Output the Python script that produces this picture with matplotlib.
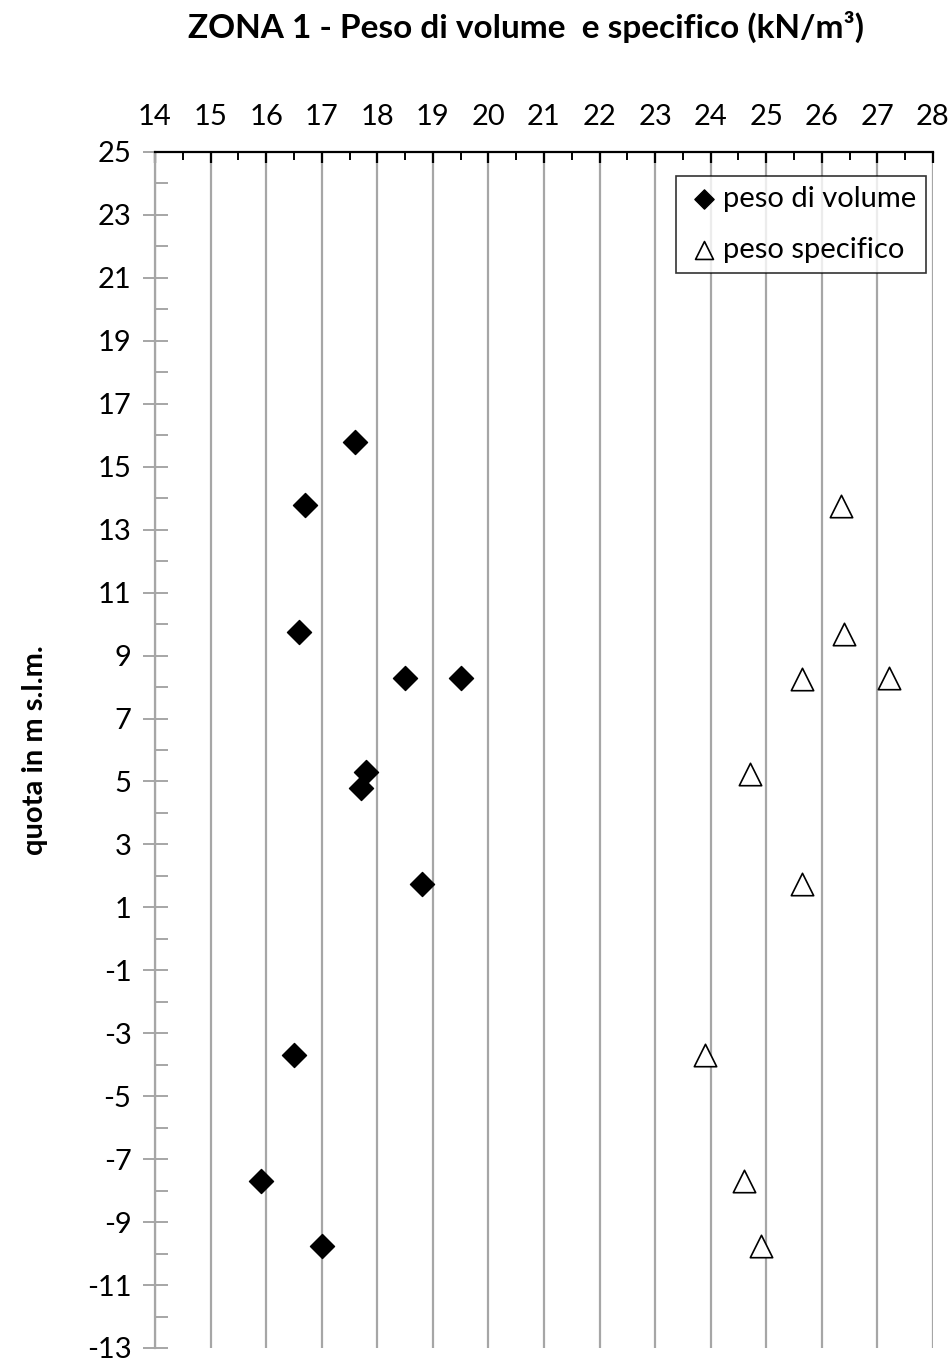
import matplotlib
matplotlib.use("Agg")
import matplotlib.pyplot as plt
from matplotlib.ticker import MultipleLocator

plt.rcParams['font.family'] = ['Lato', 'DejaVu Sans']
plt.rcParams['axes.unicode_minus'] = False

# peso di volume
vol_x = [17.6, 16.7, 16.6, 18.5, 19.5, 17.8, 17.7, 18.8, 16.5, 15.9, 17.0]
vol_y = [15.8, 13.8, 9.75, 8.3, 8.3, 5.3, 4.8, 1.75, -3.7, -7.7, -9.75]

# peso specifico
spec_x = [26.35, 26.4, 25.65, 27.2, 24.7, 25.65, 23.9, 24.6, 24.9]
spec_y = [13.75, 9.7, 8.25, 8.3, 5.25, 1.75, -3.7, -7.7, -9.75]

title = 'ZONA 1 - Peso di volume  e specifico (kN/m³)'
ylabel = 'quota in m s.l.m.'

fig = plt.figure(figsize=(9.53, 13.71), dpi=100)
ax = fig.add_axes([155/953, 1 - 1348/1371, (933-155)/953, (1348-152)/1371])

ax.scatter(vol_x, vol_y, marker='D', s=150, color='black', zorder=3,
           label='peso di volume')
ax.scatter(spec_x, spec_y, marker='^', s=260, facecolor='white',
           edgecolor='black', linewidth=1.2, zorder=3, label='peso specifico')

ax.set_xlim(14, 28)
ax.set_ylim(-13, 25)
ax.xaxis.tick_top()
ax.xaxis.set_major_locator(MultipleLocator(1))
ax.xaxis.set_minor_locator(MultipleLocator(0.5))
ax.yaxis.set_minor_locator(MultipleLocator(1))
ax.set_yticks(range(-13, 26, 2))

ax.grid(axis='x', which='major', color='#a6a6a6', linewidth=1.6)
ax.set_axisbelow(True)

for s in ['right', 'bottom']:
    ax.spines[s].set_visible(False)
ax.spines['top'].set_color('black')
ax.spines['top'].set_linewidth(1.6)
ax.spines['left'].set_color('#a6a6a6')
ax.spines['left'].set_linewidth(1.6)

ax.tick_params(axis='x', which='major', direction='in', length=8, width=1.6,
               color='black', labelsize=21, pad=16)
ax.tick_params(axis='x', which='minor', direction='in', length=6, width=1.4,
               color='black')
ax.tick_params(axis='y', which='major', direction='inout', length=18, width=1.4,
               color='#a6a6a6', labelsize=21, pad=8)
ax.tick_params(axis='y', which='minor', direction='in', length=9, width=1.4,
               color='#a6a6a6')

ax.set_ylabel(ylabel, fontsize=21, fontweight='bold', labelpad=28)
fig.suptitle(title, fontsize=24, fontweight='bold', x=0.552, y=0.992)

leg = ax.legend(loc='upper right', bbox_to_anchor=(0.991, 0.98), fontsize=21,
                frameon=True, fancybox=False, edgecolor='black',
                borderaxespad=0, handletextpad=0.05, handlelength=1.2,
                borderpad=0.35, labelspacing=0.85, markerscale=0.8)
leg.get_frame().set_linewidth(1.2)

fig.savefig('out.png', dpi=100)
